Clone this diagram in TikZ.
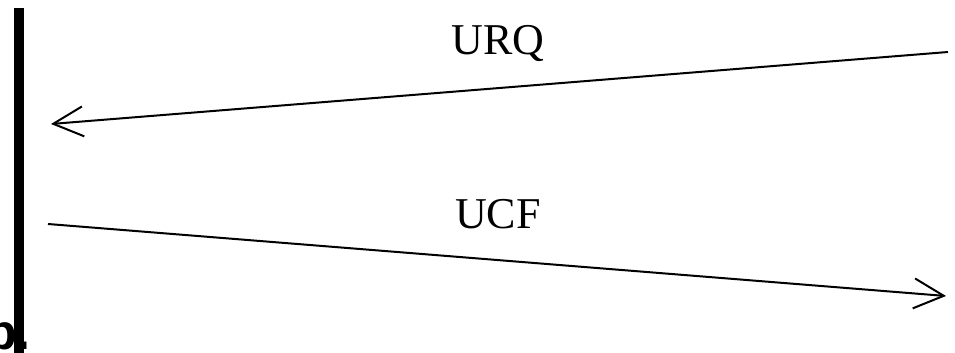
\documentclass[tikz,border=0pt]{standalone}
\usepackage{fontspec}
\setmainfont{Liberation Serif}
\newfontfamily\boldsans{Liberation Sans}
\usetikzlibrary{arrows.meta}
\tikzset{
  msg/.style={line width=2pt, -{Straight Barb[length=30pt,width=30pt,line width=2pt]}},
  lbl/.style={inner sep=0pt, anchor=base, font=\fontsize{44}{50}\selectfont},
}
\begin{document}
\begin{tikzpicture}[x=1pt,y=1pt]
\useasboundingbox (0,0) rectangle (955,353);
\fill[white] (0,0) rectangle (955,353);
% caption fragment
\node[inner sep=0pt, anchor=base west, font=\boldsans\bfseries\fontsize{50}{56}\selectfont] (cap) at (-14,3) {b.};
% lifeline
\fill[black] (14,0) rectangle (24,345);
% coordinates
\coordinate (urqS) at (948,301);
\coordinate (urqE) at (51,229);
\coordinate (ucfS) at (48,129);
\coordinate (ucfE) at (946,57);
\draw[msg] (urqS) -- (urqE);
\draw[msg] (ucfS) -- (ucfE);
\node[lbl] (urq) at (498,298) {URQ};
\node[lbl] (ucf) at (498,124) {UCF};
\end{tikzpicture}
\end{document}
